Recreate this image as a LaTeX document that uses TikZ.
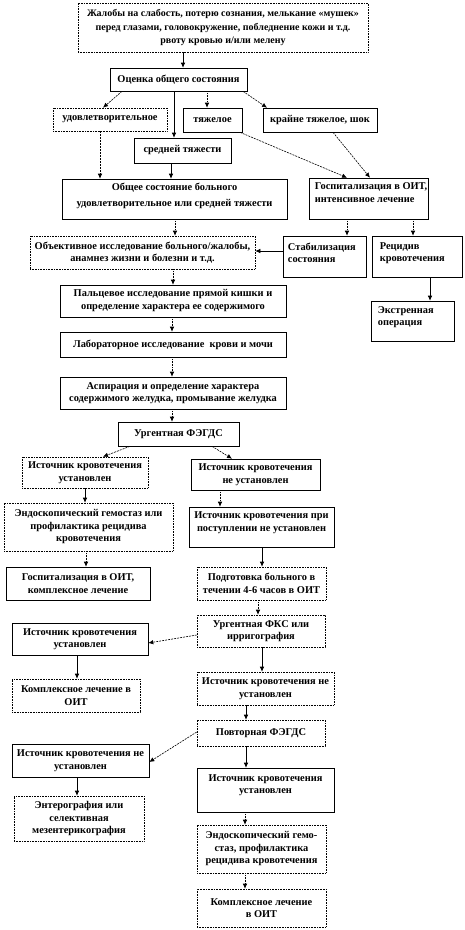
\documentclass[tikz,border=0pt]{standalone}
\usepackage{fontspec}
\setmainfont{Liberation Serif}
\usetikzlibrary{arrows.meta,calc}
\tikzset{
 bx/.style={draw=black, line width=0.6pt, inner sep=0pt, fill=white},
 bxd/.style={bx, densely dotted},
 txt/.style={align=center, inner sep=0pt, font=\fontsize{10.4}{12.5}\selectfont\bfseries},
 txl/.style={txt, align=left, anchor=west},
 arr/.style={line width=0.6pt, -{Latex[length=5pt,width=4.5pt]}},
 arrdot/.style={arr, densely dotted},
 arrdash/.style={arr, dash pattern=on 2pt off 1pt},
}
\newcommand\bxc[8]{%
 \node[#6, minimum width={#4pt-#2pt}, minimum height={#5pt-#3pt}] (#1) at ({(#2+#4)/2},{(#3+#5)/2}) {};
 \node[txt,#7] (#1-t) at (#1.center) {#8};}
\newcommand\bxl[9]{%
 \node[#6, minimum width={#4pt-#2pt}, minimum height={#5pt-#3pt}] (#1) at ({(#2+#4)/2},{(#3+#5)/2}) {};
 \node[txl,#7] (#1-t) at ([xshift=#8pt]#1.west) {#9};}
\begin{document}
\begin{tikzpicture}[x=1pt,y=-1pt]
\useasboundingbox (0,0) rectangle (465,930);
\bxc{b1}{78}{3}{368}{52}{bxd}{font=\fontsize{10}{13.7}\selectfont\bfseries}{Жалобы на слабость, потерю сознания, мелькание «мушек»\\перед глазами, головокружение, побледнение кожи и т.д.\\рвоту кровью и/или мелену}
\bxc{ocen}{110}{68}{247}{91}{bx}{}{Оценка общего состояния}
\bxc{udov}{53}{108}{167}{131}{bxd}{}{удовлетворительное}
\bxc{tyaz}{183}{108}{242}{132}{bx}{}{тяжелое}
\bxc{krai}{263}{108}{377}{132}{bx}{}{крайне тяжелое, шок}
\bxc{sred}{134}{138}{231}{163}{bx}{}{средней тяжести}
\bxc{obsh}{62}{179}{287}{219}{bx}{yshift=3pt,font=\fontsize{10.4}{16}\selectfont\bfseries}{Общее состояние больного\\удовлетворительное или средней тяжести}
\bxl{goit}{309}{178}{428}{219}{bx}{yshift=6pt}{6}{Госпитализация в ОИТ,\\интенсивное лечение}
\bxc{obj}{30}{236}{255}{269}{bxd}{font=\fontsize{10.4}{11.7}\selectfont\bfseries}{Объективное исследование больного/жалобы,\\анамнез жизни и болезни и т.д.}
\bxl{stab}{283}{236}{366}{277}{bx}{yshift=3.5pt}{5}{Стабилизация\\состояния}
\bxl{reci}{372}{236}{462}{277}{bx}{yshift=3.5pt}{8}{Рецидив\\кровотечения}
\bxl{ekst}{371}{301}{454}{341}{bx}{yshift=4pt}{7}{Экстренная\\операция}
\bxc{palc}{60}{285}{286}{317}{bx}{font=\fontsize{10.4}{13}\selectfont\bfseries}{Пальцевое исследование прямой кишки и\\определение характера ее содержимого}
\bxc{lab}{60}{332}{286}{357}{bx}{}{Лабораторное исследование\ \ крови и мочи}
\bxc{asp}{60}{377}{286}{409}{bx}{font=\fontsize{10.4}{11.5}\selectfont\bfseries}{Аспирация и определение характера\\содержимого желудка, промывание желудка}
\bxc{fegds}{118}{422}{239}{446}{bx}{}{Ургентная ФЭГДС}
\bxc{L1}{22}{457}{148}{488}{bxd}{}{Источник кровотечения\\установлен}
\bxc{R1}{191}{459}{320}{490}{bx}{}{Источник кровотечения\\не установлен}
\bxc{endoL}{4}{503}{173}{551}{bxd}{}{Эндоскопический гемостаз или\\профилактика рецидива\\кровотечения}
\bxc{goitK}{6}{567}{150}{600}{bx}{}{Госпитализация в ОИТ,\\комплексное лечение}
\bxc{postup}{189}{507}{334}{547}{bx}{yshift=4.5pt}{Источник кровотечения при\\поступлении не установлен}
\bxc{podg}{197}{567}{326}{600}{bxd}{}{Подготовка больного в\\течении 4-6 часов в ОИТ}
\bxc{fks}{197}{615}{325}{647}{bxd}{}{Ургентная ФКС или\\ирригография}
\bxc{L2}{12}{623}{148}{655}{bx}{}{Источник кровотечения\\установлен}
\bxc{komplL}{12}{679}{140}{712}{bxd}{}{Комплексное лечение в\\ОИТ}
\bxc{R2}{197}{672}{334}{705}{bxd}{}{Источник кровотечения не\\установлен}
\bxc{povt}{197}{720}{325}{746}{bxd}{}{Повторная ФЭГДС}
\bxc{L3}{12}{744}{149}{777}{bx}{}{Источник кровотечения не\\установлен}
\bxc{entero}{14}{796}{144}{841}{bxd}{}{Энтерография или\\селективная\\мезентерикография}
\bxc{R3}{197}{768}{334}{812}{bx}{yshift=5pt}{Источник кровотечения\\установлен}
\bxc{endoR}{197}{825}{326}{873}{bxd}{}{Эндоскопический гемо-\\стаз, профилактика\\рецидива кровотечения}
\bxc{komplR}{197}{889}{326}{927}{bxd}{}{Комплексное лечение\\в ОИТ}
% connectors
\draw[arr] ([xshift=-40pt]b1.south) -- ([xshift=4.5pt]ocen.north);
\draw[arrdash] ([xshift=-56.5pt]ocen.south) -- ([xshift=-7pt]udov.north);
\draw[arr] ([xshift=-4.5pt]ocen.south) -- ([xshift=-8.5pt]sred.north);
\draw[arrdot] ([xshift=28.5pt]ocen.south) -- ([xshift=-5.5pt]tyaz.north);
\draw[arrdash] ([xshift=64.5pt]ocen.south) -- ([xshift=-53pt]krai.north);
\draw[arrdash] ([xshift=27.5pt]tyaz.south) -- ([xshift=-21.5pt]goit.north);
\draw[arrdash] ([xshift=13pt]krai.south) -- ([xshift=1.5pt]goit.north);
\draw[arrdash] ([xshift=-10pt]udov.south) -- ([xshift=-74.5pt]obsh.north);
\draw[arr] ([xshift=-11.5pt]sred.south) -- ([xshift=-3.5pt]obsh.north);
\draw[arrdot] ([xshift=0.5pt]obsh.south) -- ([xshift=32.5pt]obj.north);
\draw[arrdot] ([xshift=-21.5pt]goit.south) -- ([xshift=22.5pt]stab.north);
\draw[arrdot] ([xshift=44.5pt]goit.south) -- ([xshift=-4pt]reci.north);
\draw[arr] ([yshift=5.5pt]stab.west) -- ([yshift=1.5pt]obj.east);
\draw[arr] ([xshift=13pt]reci.south) -- ([xshift=17.5pt]ekst.north);
\draw[arrdot] ([xshift=30.5pt]obj.south) -- (palc.north);
\draw[arrdot] ([xshift=-1pt]palc.south) -- ([xshift=-1pt]lab.north);
\draw[arrdot] ([xshift=-1pt]lab.south) -- ([xshift=-1pt]asp.north);
\draw[arrdot] ([xshift=-1pt]asp.south) -- ([xshift=-6.5pt]fegds.north);
\draw[arrdash] ([xshift=-48.5pt]fegds.south) -- ([xshift=18pt]L1.north);
\draw[arrdash] ([xshift=33.5pt]fegds.south) -- ([xshift=-23.5pt]R1.north);
\draw[arr] (L1.south) -- ([xshift=-3.5pt]endoL.north);
\draw[arrdot] ([xshift=-2.5pt]endoL.south) -- ([xshift=8pt]goitK.north);
\draw[arrdot] ([xshift=-35.5pt]R1.south) -- ([xshift=-41.5pt]postup.north);
\draw[arr] ([xshift=0.5pt]postup.south) -- ([xshift=0.5pt]podg.north);
\draw[arrdot] ([xshift=-3.5pt]podg.south) -- ([xshift=-3pt]fks.north);
\draw[arrdash] ([yshift=-4pt]fks.west) -- ([yshift=-4pt]L2.east);
\draw[arr] ([xshift=-3pt]L2.south) -- ([xshift=1pt]komplL.north);
\draw[arr] ([xshift=1pt]fks.south) -- ([xshift=-3.5pt]R2.north);
\draw[arr] ([xshift=-19.5pt]R2.south) -- ([xshift=-15pt]povt.north);
\draw[arrdash] ([yshift=1pt]povt.west) -- ([yshift=-1.5pt]L3.east);
\draw[arr] ([xshift=-15pt]povt.south) -- ([xshift=-19.5pt]R3.north);
\draw[arr] ([xshift=-3.5pt]L3.south) -- ([xshift=-2pt]entero.north);
\draw[arrdot] ([xshift=-20.5pt]R3.south) -- ([xshift=-16.5pt]endoR.north);
\draw[arrdot] ([xshift=-16.5pt]endoR.south) -- ([xshift=-16.5pt]komplR.north);
\end{tikzpicture}
\end{document}
